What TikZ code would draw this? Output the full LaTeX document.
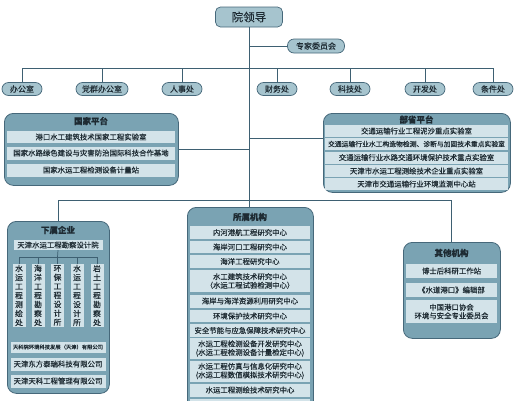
\documentclass[tikz,border=0pt]{standalone}
\usepackage{fontspec}
\newfontfamily\cjk{Noto Sans CJK SC}[FakeBold=0.35]
\usepackage{tikz}
\usetikzlibrary{positioning}

\definecolor{linec}{HTML}{3E6072}
\definecolor{edgec}{HTML}{46687A}
\definecolor{pillc}{HTML}{A6C4CE}
\definecolor{panelc}{HTML}{7AA3B3}
\definecolor{rowc}{HTML}{D3E3E9}
\definecolor{textc}{HTML}{1E2B33}

\begin{document}
\begin{tikzpicture}[x=1pt, y=-1pt,
    link/.style={draw=linec, line width=0.9pt},
    pill/.style={draw=edgec, fill=pillc, rounded corners=6.5pt, line width=0.7pt,
      minimum height=13pt, inner sep=0pt, text=textc, font=\cjk\fontsize{8}{9.5}\selectfont},
    panel/.style={draw=edgec, fill=panelc, rounded corners=9pt, line width=0.8pt,
      inner sep=0pt, anchor=north west},
    row/.style={fill=rowc, inner sep=0pt, minimum height=12.5pt, align=center,
      text=textc, font=\cjk\fontsize{7.4}{8.6}\selectfont},
    head/.style={inner sep=0pt, text=textc, font=\cjk\bfseries\fontsize{8.5}{10}\selectfont},
  ]
    \useasboundingbox (0,0) rectangle (516,400);
    \clip (0,0) rectangle (516,400);

    % Top: leadership and expert committee
    \node[pill, rounded corners=5pt, minimum width=67pt, minimum height=20pt,
      font=\cjk\fontsize{11.5}{13}\selectfont] (lead) at (249,17) {院领导};
    \node[pill, minimum width=57pt, minimum height=14pt] (expert) at (316,46) {专家委员会};

    % Functional departments
    \node[pill, minimum width=40pt] (office) at (22,89) {办公室};
    \node[pill, minimum width=52pt] (party) at (102,89) {党群办公室};
    \node[pill, minimum width=40pt] (hr) at (182,89) {人事处};
    \node[pill, minimum width=40pt] (finance) at (277,89) {财务处};
    \node[pill, minimum width=40pt] (science) at (350,89) {科技处};
    \node[pill, minimum width=40pt] (develop) at (425,89) {开发处};
    \node[pill, minimum width=40pt] (facility) at (493,89) {条件处};

    % National platforms (left)
    \node[panel, minimum width=174pt, minimum height=72pt] (national) at (4,113) {};
    \node[head] (nationalhead) at (91,121) {国家平台};
    \node[row, minimum width=168pt, minimum height=12pt] (n1) at (91,137) {港口水工建筑技术国家工程实验室};
    \node[row, minimum width=168pt, minimum height=13pt] (n2) at (91,153) {国家水路绿色建设与灾害防治国际科技合作基地};
    \node[row, minimum width=168pt, minimum height=13pt] (n3) at (91,170) {国家水运工程检测设备计量站};

    % Ministry platforms (right)
    \node[panel, minimum width=187pt, minimum height=79pt] (ministry) at (323,113) {};
    \node[head] (ministryhead) at (416.5,119.5) {部省平台};
    \node[row, minimum width=183pt, minimum height=12pt] (m1) at (416.5,131) {交通运输行业工程泥沙重点实验室};
    \node[row, minimum width=183pt, minimum height=12pt, font=\cjk\fontsize{6.8}{8}\selectfont] (m2) at (416.5,144) {交通运输行业水工构造物检测、诊断与加固技术重点实验室};
    \node[row, minimum width=183pt, minimum height=12pt] (m3) at (416.5,157.5) {交通运输行业水路交通环境保护技术重点实验室};
    \node[row, minimum width=183pt, minimum height=12pt] (m4) at (416.5,171) {天津市水运工程测绘技术企业重点实验室};
    \node[row, minimum width=183pt, minimum height=12pt] (m5) at (416.5,184) {天津市交通运输行业环境监测中心站};

    % Subordinate enterprises
    \node[panel, minimum width=102pt, minimum height=172pt] (enterprise) at (7,221) {};
    \node[head] (enterprisehead) at (58,230) {下属企业};
    \node[row, minimum width=89pt, minimum height=10pt] (survey) at (58,245) {天津水运工程勘察设计院};
    \foreach \n/\x/\t in {1/19/{水\\运\\工\\程\\测\\绘\\处},
                          2/38/{海\\洋\\工\\程\\勘\\察\\处},
                          3/57.5/{环\\保\\工\\程\\设\\计\\所},
                          4/77/{水\\运\\工\\程\\设\\计\\所},
                          5/97/{岩\\土\\工\\程\\勘\\察\\处}}
      \node[row, minimum width=13pt, minimum height=63pt,
        font=\cjk\fontsize{7.8}{9}\selectfont] (sub\n) at (\x,295.5) {\t};
    \coordinate (fork) at (57.5,257);
    \draw[link, line width=0.7pt] (survey.south) -- (fork);
    \draw[link, line width=0.7pt] (sub1.north |- fork) -- (sub5.north |- fork);
    \foreach \n in {1,...,5}
      \draw[link, line width=0.7pt] (sub\n.north) -- (sub\n.north |- fork);
    \node[row, minimum width=95pt, minimum height=11pt, font=\cjk\fontsize{5.3}{6}\selectfont] (e1) at (58,347) {天科院环境科技发展（天津）有限公司};
    \node[row, minimum width=95pt, minimum height=13pt] (e2) at (58,364) {天津东方泰瑞科技有限公司};
    \node[row, minimum width=95pt, minimum height=13pt] (e3) at (58,381) {天津天科工程管理有限公司};

    % Affiliated institutions (middle)
    \node[panel, minimum width=126pt, minimum height=220pt] (institute) at (187,207) {};
    \node[head] (institutehead) at (250,217) {所属机构};
    \node[row, minimum width=120pt] (i1) at (250,232.5) {内河港航工程研究中心};
    \node[row, minimum width=120pt] (i2) at (250,247) {海岸河口工程研究中心};
    \node[row, minimum width=120pt] (i3) at (250,261.5) {海洋工程研究中心};
    \node[row, minimum width=120pt, minimum height=22pt] (i4) at (250,281) {水工建筑技术研究中心\\（水运工程试验检测中心）};
    \node[row, minimum width=120pt, minimum height=13pt] (i5) at (250,301) {海岸与海洋资源利用研究中心};
    \node[row, minimum width=120pt] (i6) at (250,316) {环境保护技术研究中心};
    \node[row, minimum width=120pt] (i7) at (250,330.5) {安全节能与应急保障技术研究中心};
    \node[row, minimum width=120pt, minimum height=21pt] (i8) at (250,348.5) {水运工程检测设备开发研究中心\\(水运工程检测设备计量检定中心)};
    \node[row, minimum width=120pt, minimum height=21pt] (i9) at (250,371) {水运工程仿真与信息化研究中心\\(水运工程数值模拟技术研究中心)};
    \node[row, minimum width=120pt, minimum height=13pt] (i10) at (250,390) {水运工程测绘技术研究中心};
    \node[row, minimum width=120pt, minimum height=13pt] (i11) at (250,405) {};

    % Other institutions (right)
    \node[panel, minimum width=97pt, minimum height=96pt] (other) at (403,242) {};
    \node[head] (otherhead) at (451.5,253) {其他机构};
    \node[row, minimum width=91pt, minimum height=14pt] (o1) at (451.5,271) {博士后科研工作站};
    \node[row, minimum width=91pt, minimum height=14pt] (o2) at (451.5,290) {《水道港口》编辑部};
    \node[row, minimum width=91pt, minimum height=23pt] (o3) at (451.5,311.5) {中国港口协会\\环境与安全专业委员会};

    % Connectors
    \coordinate (topbar) at (249,68);
    \coordinate (lowbar) at (249,200);
    \draw[link] (lead.south) -- (lead.south |- institute.north);
    \draw[link] (expert.west) -- (expert.west -| lead.south);
    \draw[link] (office.north |- topbar) -- (facility.north |- topbar);
    \foreach \d in {office,party,hr,finance,science,develop,facility}
      \draw[link] (\d.north) -- (\d.north |- topbar);
    \draw[link] (national.east) -- (national.east -| lead.south);
    \draw[link] ([yshift=14pt]ministry.west) -- ([yshift=14pt]ministry.west -| lead.south);
    \draw[link] (enterprise.north) -- (enterprise.north |- lowbar) -- (other.north |- lowbar) -- (other.north);
\end{tikzpicture}
\end{document}
